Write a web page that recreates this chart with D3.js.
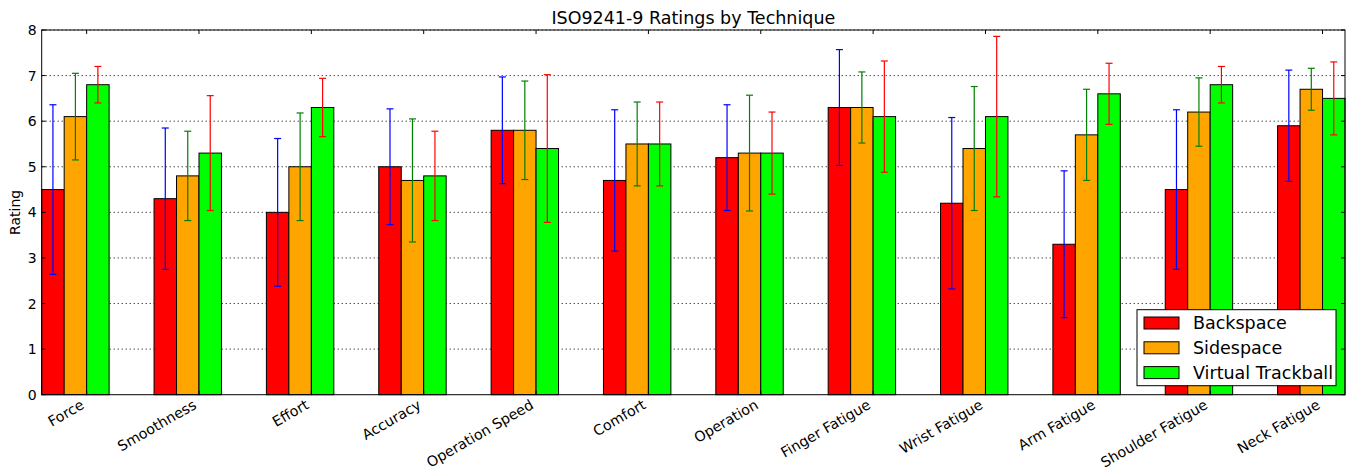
<!DOCTYPE html>
<html>
<head>
<meta charset="utf-8">
<script src="https://cdn.jsdelivr.net/npm/d3@7"></script>
<style>
  body { margin: 0; background: #fff; }
  text { font-family: "DejaVu Sans", sans-serif; fill: #000; }
</style>
</head>
<body>
<svg></svg>
<script>
const width = 1354;
const height = 471;

const categories = ['Force', 'Smoothness', 'Effort', 'Accuracy', 'Operation Speed', 'Comfort',
  'Operation', 'Finger Fatigue', 'Wrist Fatigue', 'Arm Fatigue', 'Shoulder Fatigue', 'Neck Fatigue'];

const seriesNames = ['Backspace', 'Sidespace', 'Virtual Trackball'];
const barColors = ['#ff0000', '#ffa500', '#00ff00'];
const errColors = ['#0000ff', '#008000', '#ff0000'];

const backspace = [4.5, 4.3, 4.0, 5.0, 5.8, 4.7, 5.2, 6.3, 4.2, 3.3, 4.5, 5.9];
const backspaceErr = [1.86, 1.55, 1.62, 1.27, 1.17, 1.55, 1.16, 1.27, 1.88, 1.61, 1.75, 1.22];
const sidespace = [6.1, 4.8, 5.0, 4.7, 5.8, 5.5, 5.3, 6.3, 5.4, 5.7, 6.2, 6.7];
const sidespaceErr = [0.95, 0.98, 1.18, 1.35, 1.08, 0.92, 1.27, 0.78, 1.36, 1.0, 0.75, 0.46];
const trackball = [6.8, 5.3, 6.3, 4.8, 5.4, 5.5, 5.3, 6.1, 6.1, 6.6, 6.8, 6.5];
const trackballErr = [0.4, 1.26, 0.64, 0.98, 1.62, 0.92, 0.9, 1.22, 1.76, 0.67, 0.4, 0.8];

const yTicks = [0, 1, 2, 3, 4, 5, 6, 7, 8];

const values = [backspace, sidespace, trackball];
const errors = [backspaceErr, sidespaceErr, trackballErr];

const pLeft = 41.7, pRight = 1345, pTop = 30, pBottom = 394.7;
const barW = 0.2;

const svg = d3.select('svg')
  .attr('width', width)
  .attr('height', height);

const x = d3.scaleLinear()
  .domain([0, categories.length - 1 + 3 * barW])
  .range([pLeft, pRight]);

const y = d3.scaleLinear()
  .domain([0, 8])
  .range([pBottom, pTop]);

// grid
svg.append('g')
  .selectAll('line')
  .data(yTicks.slice(1))
  .enter()
  .append('line')
  .attr('x1', pLeft).attr('x2', pRight)
  .attr('y1', d => y(d)).attr('y2', d => y(d))
  .attr('stroke', '#000')
  .attr('stroke-width', 1)
  .attr('stroke-dasharray', '1,3');

// bars + error bars
values.forEach((vals, s) => {
  const g = svg.append('g');
  g.selectAll('rect')
    .data(vals)
    .enter()
    .append('rect')
    .attr('x', (d, i) => x(i + s * barW))
    .attr('y', d => y(d))
    .attr('width', x(barW) - x(0))
    .attr('height', d => y(0) - y(d))
    .attr('fill', barColors[s])
    .attr('stroke', '#000')
    .attr('stroke-width', 1);

  const eg = svg.append('g')
    .attr('stroke', errColors[s])
    .attr('stroke-width', 1.2);
  vals.forEach((d, i) => {
    const cx = x(i + s * barW + barW / 2);
    const lo = y(d - errors[s][i]);
    const hi = y(d + errors[s][i]);
    eg.append('line').attr('x1', cx).attr('x2', cx).attr('y1', lo).attr('y2', hi);
    eg.append('line').attr('x1', cx - 3.5).attr('x2', cx + 3.5).attr('y1', lo).attr('y2', lo);
    eg.append('line').attr('x1', cx - 3.5).attr('x2', cx + 3.5).attr('y1', hi).attr('y2', hi);
  });
});

// frame
svg.append('rect')
  .attr('x', pLeft).attr('y', pTop)
  .attr('width', pRight - pLeft).attr('height', pBottom - pTop)
  .attr('fill', 'none')
  .attr('stroke', '#000')
  .attr('stroke-width', 1);

// inward ticks
const tickG = svg.append('g').attr('stroke', '#000').attr('stroke-width', 1);
yTicks.forEach(t => {
  tickG.append('line').attr('x1', pLeft).attr('x2', pLeft + 4).attr('y1', y(t)).attr('y2', y(t));
  tickG.append('line').attr('x1', pRight).attr('x2', pRight - 4).attr('y1', y(t)).attr('y2', y(t));
});
categories.forEach((c, i) => {
  const tx = x(i + 2 * barW);
  tickG.append('line').attr('x1', tx).attr('x2', tx).attr('y1', pTop).attr('y2', pTop + 4);
  tickG.append('line').attr('x1', tx).attr('x2', tx).attr('y1', pBottom).attr('y2', pBottom - 4);
});

// y tick labels
svg.append('g')
  .selectAll('text')
  .data(yTicks)
  .enter()
  .append('text')
  .attr('x', pLeft - 5)
  .attr('y', d => y(d))
  .attr('dy', '0.36em')
  .attr('text-anchor', 'end')
  .style('font-size', '14px')
  .text(d => d);

// x tick labels, rotated
svg.append('g')
  .selectAll('text')
  .data(categories)
  .enter()
  .append('text')
  .attr('transform', (d, i) => `translate(${x(i + 2 * barW) - 1.5},${pBottom + 13}) rotate(-30)`)
  .attr('text-anchor', 'end')
  .style('font-size', '14.3px')
  .text(d => d);

// y label
svg.append('text')
  .attr('transform', `translate(20,${(pTop + pBottom) / 2}) rotate(-90)`)
  .attr('text-anchor', 'middle')
  .style('font-size', '14px')
  .text('Rating');

// title
svg.append('text')
  .attr('x', (pLeft + pRight) / 2)
  .attr('y', 24)
  .attr('text-anchor', 'middle')
  .style('font-size', '17.5px')
  .text('ISO9241-9 Ratings by Technique');

// legend
const lg = svg.append('g');
lg.append('rect')
  .attr('x', 1137).attr('y', 309.7)
  .attr('width', 199).attr('height', 76)
  .attr('fill', '#fff')
  .attr('stroke', '#000');
seriesNames.forEach((name, s) => {
  const cy = 323 + s * 24.8;
  lg.append('rect')
    .attr('x', 1144).attr('y', cy - 6)
    .attr('width', 35).attr('height', 12)
    .attr('fill', barColors[s])
    .attr('stroke', '#000');
  lg.append('text')
    .attr('x', 1193).attr('y', cy)
    .attr('dy', '0.36em')
    .style('font-size', '17.5px')
    .text(name);
});
</script>
</body>
</html>
